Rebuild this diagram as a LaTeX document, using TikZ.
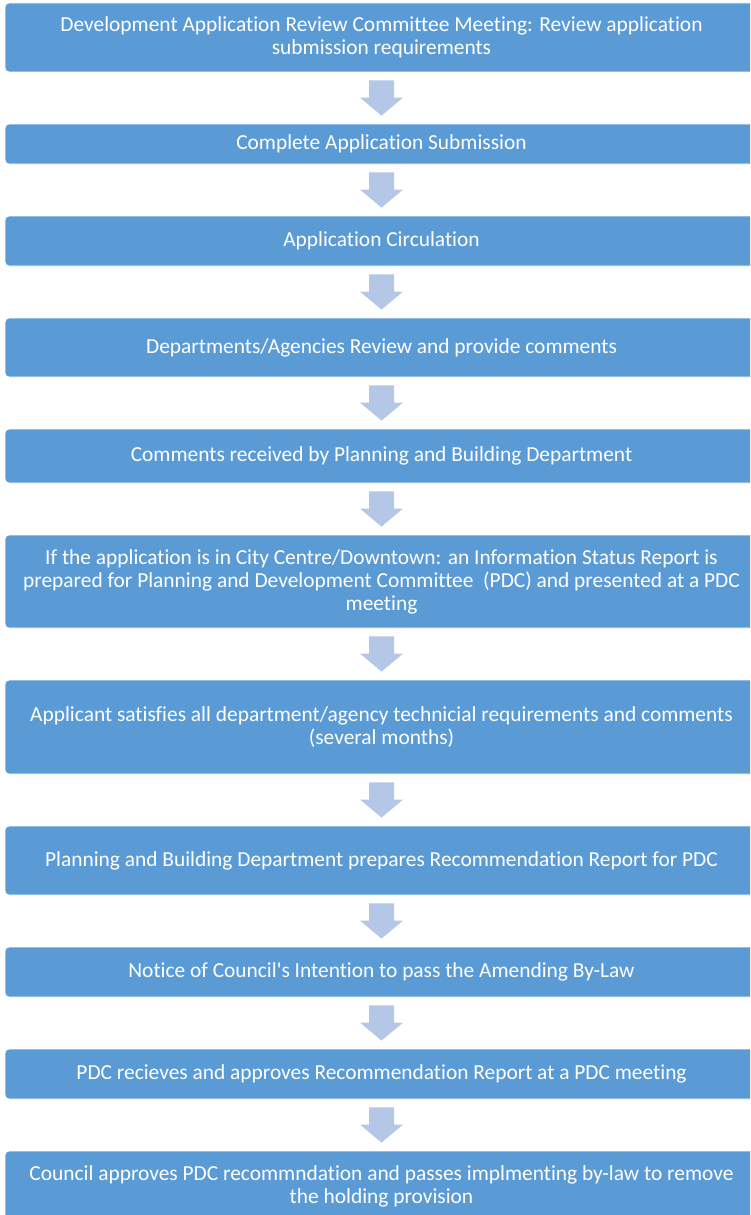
\documentclass[tikz,border=0pt]{standalone}
\usepackage{fontspec}
\setmainfont{Carlito}[Ligatures={TeX,NoCommon}]
\usetikzlibrary{calc}
\definecolor{boxblue}{HTML}{5B9BD5}
\definecolor{arrowblue}{HTML}{B4C7E7}
\tikzset{
  stepbox/.style={fill=boxblue, draw=white, line width=0.8pt, rounded corners=4pt,
    minimum width=753pt, text=white, align=center,
    font=\fontsize{21.4}{23}\selectfont, inner sep=0pt},
  blockarrow/.style={fill=arrowblue}
}
\newcommand\flowarrow[2]{%
  \path[blockarrow] let \p1=(#1.south), \p2=(#2.north) in
    (\x1-12.5pt,\y1-8pt) -- (\x1+12.5pt,\y1-8pt) -- (\x1+12.5pt,\y2+26pt) --
    (\x1+21.5pt,\y2+26pt) -- (\x1,\y2+8pt) -- (\x1-21.5pt,\y2+26pt) --
    (\x1-12.5pt,\y2+26pt) -- cycle;}
\begin{document}
\begin{tikzpicture}[x=1pt,y=-1pt]
\useasboundingbox (0,0) rectangle (750,1215);
\clip (0,0) rectangle (750,1215);
\node[stepbox, minimum height=69pt] (b1) at (381.5,37.5)
  {Development Application Review Committee Meeting: Review application\\submission requirements};
\node[stepbox, minimum height=40pt] (b2) at (381.5,144)
  {Complete Application Submission};
\node[stepbox, minimum height=50pt] (b3) at (381.5,241)
  {Application Circulation};
\node[stepbox, minimum height=59pt] (b4) at (381.5,347.5)
  {Departments/Agencies Review and provide comments};
\node[stepbox, minimum height=54pt] (b5) at (381.5,456)
  {Comments received by Planning and Building Department};
\node[stepbox, minimum height=93pt] (b6) at (381.5,581.5)
  {If the application is in City Centre/Downtown: an Information Status Report is\\prepared for Planning and Development Committee\ \ (PDC) and presented at a PDC\\meeting};
\node[stepbox, minimum height=94pt] (b7) at (381.5,727)
  {Applicant satisfies all department/agency technicial requirements and comments\\(several months)};
\node[stepbox, minimum height=69pt] (b8) at (381.5,860.5)
  {Planning and Building Department prepares Recommendation Report for PDC};
\node[stepbox, minimum height=50pt] (b9) at (381.5,972)
  {Notice of Council\textquotesingle s Intention to pass the Amending By-Law};
\node[stepbox, minimum height=50pt] (b10) at (381.5,1074)
  {PDC recieves and approves Recommendation Report at a PDC meeting};
\node[stepbox, minimum height=70pt] (b11) at (381.5,1186)
  {Council approves PDC recommndation and passes implmenting by-law to remove\\the holding provision};
\flowarrow{b1}{b2}
\flowarrow{b2}{b3}
\flowarrow{b3}{b4}
\flowarrow{b4}{b5}
\flowarrow{b5}{b6}
\flowarrow{b6}{b7}
\flowarrow{b7}{b8}
\flowarrow{b8}{b9}
\flowarrow{b9}{b10}
\flowarrow{b10}{b11}
\end{tikzpicture}
\end{document}
